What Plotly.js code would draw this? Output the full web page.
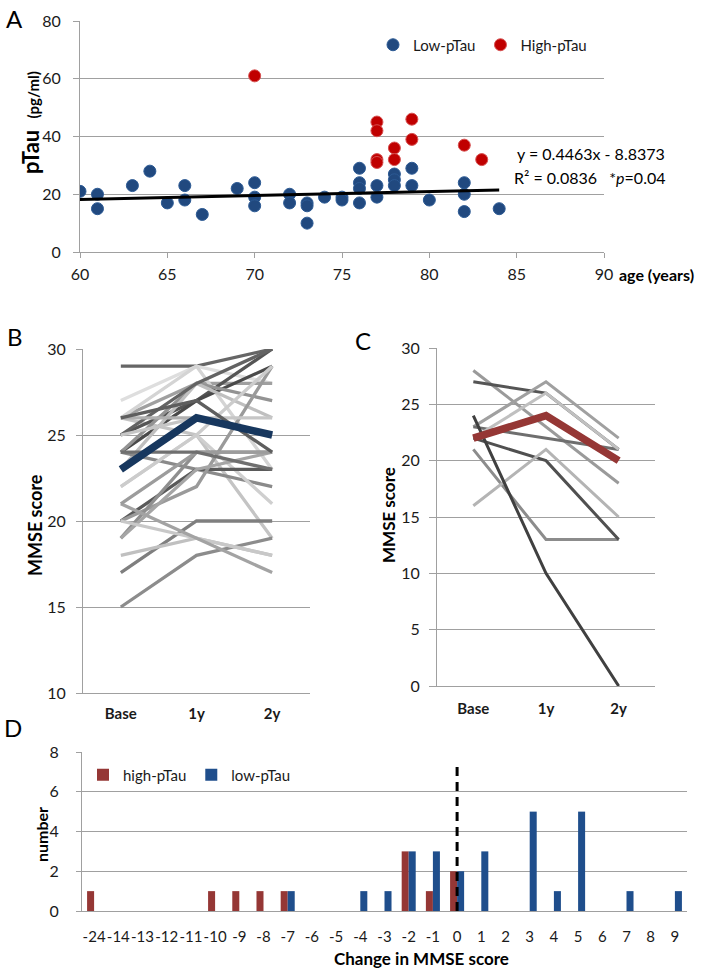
<!DOCTYPE html>
<html>
<head>
<meta charset="utf-8">
<script src="https://cdn.plot.ly/plotly-3.0.1.min.js"></script>
<style>html,body{margin:0;padding:0;background:#fff;}#chart{width:703px;height:968px;}</style>
</head>
<body>
<div id="chart"></div>
<script>
// ---------- Panel A data ----------
const lowAge  = [60,61,61,63,64,65,66,66,67,69,70,70,70,72,72,73,73,73,74,75,75,76,76,76,76,77,77,78,78,78,79,79,80,82,82,82,84];
const lowTau  = [21,20,15,23,28,17,23,18,13,22,24,19,16,20,17,17,16,10,19,19,18,29,24,22,17,23,19,27,25,23,29,23,18,24,20,14,15];
const highAge = [70,77,77,77,77,78,78,79,79,82,83];
const highTau = [61,45,42,32,31,36,32,46,39,37,32];
const trendAge = [60,84];
const trendTau = [18.2,21.5];

// ---------- Panel B data (low-pTau) ----------
const timepoints = ['Base','1y','2y'];
const lowLines = [
  [29,29,30],[27,29,28],[26,28,28],[26,29,23],[26,25,19],[25,27,30],[24,27,29],
  [24,28,27],[23,28,26],[24,23,22],[22,25,21],[20,23,23],[20,22,29],[19,24,24],
  [19,23,24],[17,20,20],[15,18,19],[18,19,18],[20,19,18],[21,19,17],[22,25,29],
  [25,28,30],[21,24,24],[25,26,26],[26,26,25],[24,24,23],[26,27,24]
];
const lowShades = [
  '#666666','#dedede','#a0a0a0','#d4d4d4','#c4c4c4','#555555','#4a4a4a',
  '#939393','#bfbfbf','#8a8a8a','#cfcfcf','#5a5a5a','#9a9a9a','#8f8f8f',
  '#a5a5a5','#7f7f7f','#8c8c8c','#c0c0c0','#c8c8c8','#a3a3a3','#cccccc',
  '#636363','#9c9c9c','#c6c6c6','#b0b0b0','#6f6f6f','#5e5e5e'
];
const lowMean = [23,26,25];

// ---------- Panel C data (high-pTau) ----------
const highLines = [
  [28,23,18],[27,26,21],[23,27,22],[23,22,21],[22,26,21],[21,13,13],[22,20,13],[16,21,15],[24,10,0]
];
const highShades = ['#9a9a9a','#555555','#a0a0a0','#6e6e6e','#c0c0c0','#8c8c8c','#505050','#b4b4b4','#404040'];
const highMean = [22,24,20];

// ---------- Panel D data ----------
const changeCats = ['-24','-14','-13','-12','-11','-10','-9','-8','-7','-6','-5','-4','-3','-2','-1','0','1','2','3','4','5','6','7','8','9'];
const highCounts = [1,0,0,0,0,1,1,1,1,0,0,0,0,3,1,2,0,0,0,0,0,0,0,0,0];
const lowCounts  = [0,0,0,0,0,0,0,0,1,0,0,1,1,3,3,2,3,0,5,1,5,0,1,0,1];
const zeroLineX = ['0','0'];
const zeroLineY = [0,7.4];

// ---------- helpers ----------
const W = 703, H = 968;
const fx = p => p / W;
const fy = p => 1 - p / H;
const FONT = 'Lato, "Open Sans", sans-serif';
const GRID = '#a0a0a0';
const TXT = '#1a1a1a';

const traces = [];
// A
traces.push({x: lowAge, y: lowTau, type: 'scatter', mode: 'markers', name: 'Low-pTau',
  xaxis: 'x', yaxis: 'y', legend: 'legend',
  marker: {color: '#21497f', size: 12, line: {color: '#2c5a94', width: 1}}});
traces.push({x: highAge, y: highTau, type: 'scatter', mode: 'markers', name: 'High-pTau',
  xaxis: 'x', yaxis: 'y', legend: 'legend',
  marker: {color: '#c00000', size: 12, line: {color: '#d65050', width: 1}}});
traces.push({x: trendAge, y: trendTau, type: 'scatter', mode: 'lines', showlegend: false,
  xaxis: 'x', yaxis: 'y', line: {color: '#000', width: 3}});
// B
lowLines.forEach((v, i) => traces.push({x: timepoints, y: v, type: 'scatter', mode: 'lines',
  showlegend: false, xaxis: 'x2', yaxis: 'y2', line: {color: lowShades[i], width: 3.3}}));
traces.push({x: timepoints, y: lowMean, type: 'scatter', mode: 'lines', showlegend: false,
  xaxis: 'x2', yaxis: 'y2', line: {color: '#17375e', width: 7.5}});
// C
highLines.forEach((v, i) => traces.push({x: timepoints, y: v, type: 'scatter', mode: 'lines',
  showlegend: false, xaxis: 'x3', yaxis: 'y3', line: {color: highShades[i], width: 3}}));
traces.push({x: timepoints, y: highMean, type: 'scatter', mode: 'lines', showlegend: false,
  xaxis: 'x3', yaxis: 'y3', line: {color: '#953735', width: 7.5}});
// D
traces.push({x: changeCats, y: highCounts, type: 'bar', name: 'high-pTau', xaxis: 'x4', yaxis: 'y4',
  legend: 'legend2', marker: {color: '#953735'}});
traces.push({x: changeCats, y: lowCounts, type: 'bar', name: 'low-pTau', xaxis: 'x4', yaxis: 'y4',
  legend: 'legend2', marker: {color: '#1f4e8c'}});
traces.push({x: zeroLineX, y: zeroLineY, type: 'scatter', mode: 'lines', showlegend: false,
  xaxis: 'x4', yaxis: 'y4', line: {color: '#000', width: 3, dash: '9px,6px'}});

const tickFont = {family: FONT, size: 16, color: TXT};
const boldTick = {family: FONT, size: 15, color: TXT, weight: 'bold'};

function ann(text, x, y, size, opts) {
  return Object.assign({text: text, x: fx(x), y: fy(y), xref: 'paper', yref: 'paper', showarrow: false,
    xanchor: 'center', yanchor: 'middle', font: {family: FONT, size: size, color: '#000'}}, opts || {});
}

const layout = {
  width: W, height: H,
  margin: {l: 0, r: 0, t: 0, b: 0},
  paper_bgcolor: '#fff', plot_bgcolor: '#fff',
  font: {family: FONT, color: TXT},
  bargap: 0.42, bargroupgap: 0, barmode: 'group',
  xaxis: {domain: [fx(80), fx(604)], anchor: 'y', range: [60, 90], dtick: 5, tick0: 60,
    ticks: 'outside', ticklen: 5, tickcolor: GRID, showline: true, linecolor: GRID,
    showgrid: false, zeroline: false, tickfont: tickFont, ticklabelstandoff: 3},
  yaxis: {domain: [fy(252), fy(21)], anchor: 'x', range: [0, 80], dtick: 20,
    ticks: 'outside', ticklen: 6, tickcolor: GRID, showline: true, linecolor: GRID,
    showgrid: true, gridcolor: GRID, zeroline: false, tickfont: tickFont, ticklabelstandoff: 9},
  xaxis2: {domain: [fx(83), fx(310)], anchor: 'y2', type: 'category', categoryarray: timepoints,
    categoryorder: 'array', range: [-0.5, 2.5], ticks: '', showline: true, linecolor: GRID,
    showgrid: false, zeroline: false, tickfont: boldTick, ticklabelstandoff: 7},
  yaxis2: {domain: [fy(693), fy(349)], anchor: 'x2', range: [10, 30], dtick: 5,
    ticks: 'outside', ticklen: 6, tickcolor: GRID, showline: true, linecolor: GRID,
    showgrid: true, gridcolor: GRID, zeroline: false, tickfont: tickFont, ticklabelstandoff: 7},
  xaxis3: {domain: [fx(437), fx(655)], anchor: 'y3', type: 'category', categoryarray: timepoints,
    categoryorder: 'array', range: [-0.5, 2.5], ticks: '', showline: true, linecolor: GRID,
    showgrid: false, zeroline: false, tickfont: boldTick, ticklabelstandoff: 9},
  yaxis3: {domain: [fy(686), fy(348)], anchor: 'x3', range: [0, 30], dtick: 5,
    ticks: 'outside', ticklen: 7, tickcolor: GRID, showline: true, linecolor: GRID,
    showgrid: true, gridcolor: GRID, zeroline: false, tickfont: tickFont, ticklabelstandoff: 6},
  xaxis4: {domain: [fx(82), fx(687)], anchor: 'y4', type: 'category', categoryarray: changeCats,
    categoryorder: 'array', range: [-0.5, 24.5], ticks: '', showline: true, linecolor: GRID,
    showgrid: false, zeroline: false, tickfont: {family: FONT, size: 15, color: TXT},
    ticklabelstandoff: 12, tickangle: 0},
  yaxis4: {domain: [fy(911), fy(752)], anchor: 'x4', range: [0, 8], dtick: 2,
    ticks: 'outside', ticklen: 5, tickcolor: GRID, showline: true, linecolor: GRID,
    showgrid: true, gridcolor: GRID, zeroline: false, tickfont: tickFont, ticklabelstandoff: 14},
  legend: {orientation: 'h', x: fx(373), y: fy(45), xanchor: 'left', yanchor: 'middle',
    bgcolor: 'rgba(0,0,0,0)', font: {family: FONT, size: 15, color: TXT}, itemwidth: 30,
    tracegroupgap: 0},
  legend2: {orientation: 'h', x: fx(83), y: fy(775), xanchor: 'left', yanchor: 'middle',
    bgcolor: 'rgba(0,0,0,0)', font: {family: FONT, size: 15, color: TXT}, itemwidth: 30},
  annotations: [
    ann('A', 14, 19, 24),
    ann('B', 15, 337, 24),
    ann('C', 363, 340, 24),
    ann('D', 13, 727, 24),
    ann('<b>pTau</b>\u00a0\u00a0<b><span style="font-size:15px">(pg/ml)</span></b>', 31, 123, 22, {textangle: -90}),
    ann('<b>age (years)</b>', 617, 274, 16, {xanchor: 'left'}),
    ann('y = 0.4463x - 8.8373', 591, 154, 16),
    ann('R\u00b2 = 0.0836\u00a0\u00a0\u00a0*<i>p</i>=0.04', 589, 177, 16),
    ann('<b>MMSE score</b>', 35, 525, 18, {textangle: -90}),
    ann('<b>MMSE score</b>', 388, 515, 17, {textangle: -90}),
    ann('<b>number</b>', 41, 835, 16, {textangle: -90}),
    ann('<b>Change in MMSE score</b>', 422, 958, 17)
  ]
};

Plotly.newPlot('chart', traces, layout, {displayModeBar: false, staticPlot: true});
</script>
</body>
</html>
